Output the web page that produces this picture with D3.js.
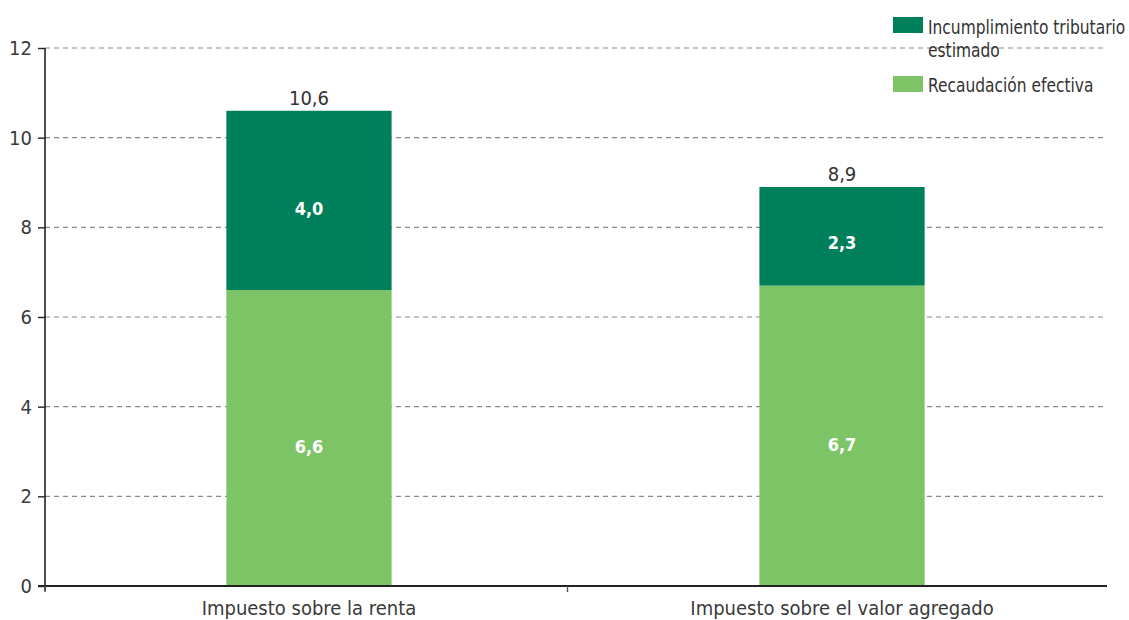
<!DOCTYPE html>
<html>
<head>
<meta charset="utf-8">
<script src="https://cdn.jsdelivr.net/npm/d3@7"></script>
<style>
  html, body { margin: 0; padding: 0; background: #fff; }
  svg text { font-family: "Liberation Sans Narrow", "DejaVu Sans Condensed", "Liberation Sans", sans-serif; }
</style>
</head>
<body>
<svg id="chart" width="1129" height="620"></svg>
<script>
// Tax categories and stacked components (% values)
const categories = ["Impuesto sobre la renta", "Impuesto sobre el valor agregado"];
const recaudacion = [6.6, 6.7];      // Recaudación efectiva
const incumplimiento = [4.0, 2.3];   // Incumplimiento tributario estimado
const totals = [10.6, 8.9];
const yTicks = [0, 2, 4, 6, 8, 10, 12];
const seriesNames = ["Incumplimiento tributario|estimado", "Recaudación efectiva"];
const colors = { dark: "#00805a", light: "#7dc467" };

const svg = d3.select("#chart");
const plotLeft = 45, plotRight = 1107, plotTop = 48, plotBottom = 586;

const x = d3.scaleBand().domain(categories).range([43, 1108])
  .paddingInner(0.69).paddingOuter(0.344);
const y = d3.scaleLinear().domain([0, 12]).range([plotBottom, plotTop]);

// dashed gridlines
svg.append("g").selectAll("line").data(yTicks.filter(d => d > 0)).join("line")
  .attr("x1", plotLeft).attr("x2", plotRight)
  .attr("y1", d => y(d)).attr("y2", d => y(d))
  .attr("stroke", "#8a8a8a").attr("stroke-width", 1.2)
  .attr("stroke-dasharray", "5,4");

// y axis
const yAxis = svg.append("g").attr("transform", `translate(${plotLeft},0)`)
  .call(d3.axisLeft(y).tickValues(yTicks).tickSize(7).tickPadding(6).tickFormat(d3.format("d")));
yAxis.select(".domain").attr("stroke", "#222").attr("stroke-width", 1.6)
  .attr("d", `M0,${plotTop}V${plotBottom + 5}`);
yAxis.selectAll(".tick line").attr("stroke", "#222").attr("stroke-width", 1.4);
yAxis.selectAll(".tick text").attr("font-size", 20).attr("fill", "#3a3a3a");

// stacked bars
const bw = x.bandwidth();
categories.forEach((c, i) => {
  const x0 = x(c);
  svg.append("rect").attr("x", x0).attr("width", bw)
    .attr("y", y(recaudacion[i])).attr("height", y(0) - y(recaudacion[i]))
    .attr("fill", colors.light);
  svg.append("rect").attr("x", x0).attr("width", bw)
    .attr("y", y(totals[i])).attr("height", y(recaudacion[i]) - y(totals[i]))
    .attr("fill", colors.dark);
});

const fmt = v => d3.format(".1f")(v).replace(".", ",");

// segment labels
categories.forEach((c, i) => {
  const cx = x(c) + bw / 2;
  svg.append("text").attr("x", cx).attr("y", y(recaudacion[i] / 2) + 15)
    .attr("text-anchor", "middle").attr("font-size", 18).attr("font-weight", "bold")
    .attr("fill", "#fff").text(fmt(recaudacion[i]));
  svg.append("text").attr("x", cx).attr("y", y(recaudacion[i] + incumplimiento[i] / 2) + 15)
    .attr("text-anchor", "middle").attr("font-size", 18).attr("font-weight", "bold")
    .attr("fill", "#fff").text(fmt(incumplimiento[i]));
  svg.append("text").attr("x", cx).attr("y", y(totals[i]) - 6)
    .attr("text-anchor", "middle").attr("font-size", 20)
    .attr("fill", "#333").text(fmt(totals[i]));
});

// x axis
const xAxis = svg.append("g").attr("transform", `translate(0,${plotBottom})`);
xAxis.append("line").attr("x1", 38).attr("x2", plotRight).attr("stroke", "#222").attr("stroke-width", 1.8);
const midX = (x(categories[0]) + bw + x(categories[1])) / 2 - 8;
[plotLeft, midX].forEach(t => xAxis.append("line").attr("x1", t).attr("x2", t)
  .attr("y1", 0).attr("y2", 6).attr("stroke", "#555").attr("stroke-width", 1.4));
categories.forEach(c => xAxis.append("text").attr("x", x(c) + bw / 2).attr("y", 29)
  .attr("text-anchor", "middle").attr("font-size", 20).attr("fill", "#3a3a3a").text(c));

// legend (narrowed text to match the condensed type)
const legend = svg.append("g");
const legItems = [
  { name: seriesNames[0], color: colors.dark, sy: 17, baselines: [34, 57] },
  { name: seriesNames[1], color: colors.light, sy: 76, baselines: [92] }
];
legItems.forEach(it => {
  legend.append("rect").attr("x", 893).attr("y", it.sy).attr("width", 30).attr("height", 16).attr("fill", it.color);
  it.name.split("|").forEach((ln, k) => legend.append("text")
    .attr("transform", `translate(928,${it.baselines[k]}) scale(0.86,1)`)
    .attr("font-size", 20).attr("fill", "#333").text(ln));
});
</script>
</body>
</html>
